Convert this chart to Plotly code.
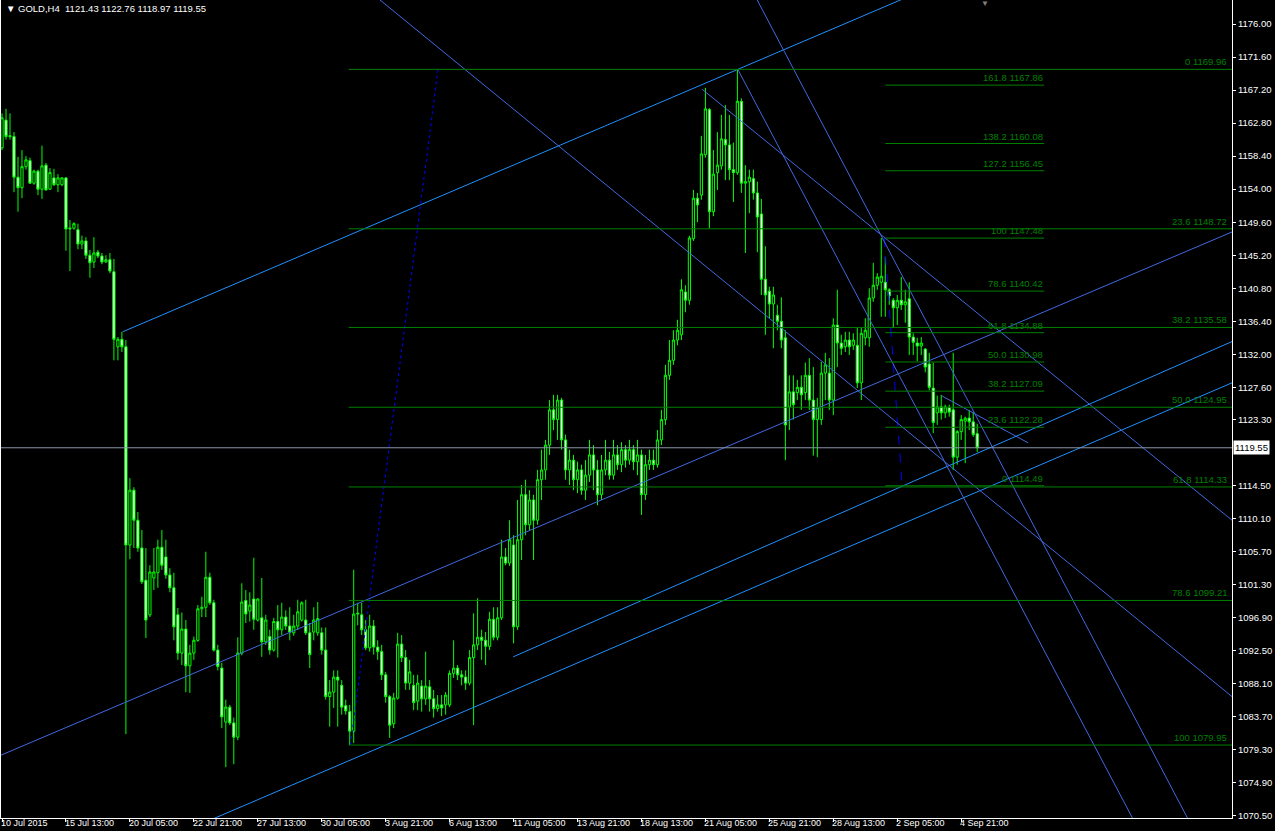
import plotly.graph_objects as go

# GOLD H4, 10 Jul - 4 Sep 2015
SYMBOL = "GOLD,H4"

DATE_LABELS = ["10 Jul 2015", "15 Jul 13:00", "20 Jul 05:00", "22 Jul 21:00", "27 Jul 13:00",
               "30 Jul 05:00", "3 Aug 21:00", "6 Aug 13:00", "11 Aug 05:00", "13 Aug 21:00",
               "18 Aug 13:00", "21 Aug 05:00", "25 Aug 21:00", "28 Aug 13:00", "2 Sep 05:00",
               "4 Sep 21:00"]
LABEL_BARS = [0, 16, 32, 48, 64, 80, 96, 112, 128, 144, 160, 176, 192, 208, 224, 240]

OPEN = [1159.5, 1163.2, 1161.0, 1161.0, 1155.6, 1154.2, 1157.0, 1157.8, 1154.8, 1156.4,
        1154.0, 1157.2, 1154.0, 1155.5, 1154.6, 1154.6, 1155.5, 1148.7, 1148.8, 1148.6,
        1146.7, 1147.1, 1145.2, 1144.3, 1145.6, 1145.1, 1144.3, 1144.6, 1143.0, 1133.0,
        1134.0, 1133.0, 1106.6, 1113.9, 1109.9, 1106.2, 1101.9, 1097.3, 1102.2, 1102.9,
        1106.3, 1105.0, 1102.6, 1100.9, 1097.3, 1092.2, 1095.4, 1090.5, 1092.2, 1093.9,
        1098.1, 1098.3, 1102.3, 1098.9, 1092.6, 1090.2, 1083.0, 1085.0, 1082.9, 1081.0,
        1092.2, 1099.2, 1097.8, 1099.4, 1096.6, 1096.9, 1093.7, 1094.4, 1092.6, 1096.4,
        1095.3, 1097.0, 1095.8, 1094.9, 1095.8, 1096.6, 1096.6, 1094.9, 1095.0, 1094.9,
        1094.9, 1092.6, 1086.4, 1087.0, 1089.0, 1087.9, 1085.2, 1084.4, 1081.8, 1097.4,
        1097.3, 1095.3, 1092.9, 1095.8, 1093.0, 1092.4, 1089.3, 1086.4, 1082.8, 1086.2,
        1093.4, 1091.6, 1088.2, 1087.9, 1085.8, 1087.8, 1086.1, 1087.7, 1086.1, 1084.8,
        1085.3, 1085.3, 1085.3, 1089.5, 1090.2, 1089.3, 1089.0, 1088.2, 1091.6, 1093.3,
        1094.3, 1093.9, 1093.1, 1096.7, 1094.3, 1096.9, 1105.0, 1104.2, 1106.6, 1095.7,
        1107.3, 1113.3, 1109.3, 1112.6, 1109.9, 1115.3, 1116.6, 1119.9, 1124.6, 1123.3,
        1125.9, 1120.6, 1116.6, 1117.9, 1115.3, 1116.6, 1113.9, 1115.9, 1118.6, 1116.6,
        1113.3, 1116.6, 1117.9, 1115.9, 1118.6, 1117.3, 1119.3, 1117.9, 1119.3, 1117.7,
        1118.6, 1113.3, 1117.3, 1117.9, 1117.3, 1120.6, 1123.3, 1129.2, 1131.2, 1133.9,
        1134.6, 1140.3, 1139.2, 1147.4, 1152.8, 1153.2, 1158.6, 1164.6, 1151.0, 1156.2,
        1157.1, 1160.6, 1159.9, 1156.6, 1156.2, 1165.7, 1154.8, 1155.0, 1155.4, 1153.5,
        1150.7, 1142.0, 1140.4, 1138.7, 1137.2, 1136.4, 1134.2, 1125.0, 1127.0, 1126.9,
        1127.6, 1126.9, 1129.2, 1125.9, 1123.3, 1123.3, 1129.5, 1129.5, 1125.9, 1135.9,
        1133.5, 1133.0, 1133.9, 1133.2, 1133.2, 1128.2, 1134.2, 1134.2, 1139.5, 1141.2,
        1141.6, 1141.6, 1140.6, 1139.2, 1138.2, 1139.2, 1138.6, 1139.4, 1134.3, 1133.5,
        1133.1, 1132.7, 1130.7, 1127.5, 1124.2, 1125.0, 1124.2, 1124.9, 1124.6, 1118.3,
        1121.7, 1123.1, 1123.5, 1123.0, 1121.43]

HIGH = [1164.1, 1164.7, 1164.1, 1161.6, 1158.3, 1159.2, 1158.4, 1158.2, 1156.6, 1156.6,
        1159.8, 1157.5, 1156.8, 1156.7, 1156.0, 1155.6, 1155.6, 1149.9, 1149.6, 1149.4,
        1147.8, 1147.6, 1145.9, 1147.6, 1145.9, 1145.5, 1145.2, 1145.5, 1144.7, 1134.3,
        1135.0, 1133.9, 1115.5, 1114.3, 1111.0, 1108.6, 1106.2, 1103.9, 1106.2, 1107.3,
        1108.6, 1107.3, 1103.5, 1102.9, 1098.2, 1097.6, 1096.6, 1093.3, 1094.4, 1098.6,
        1099.7, 1105.7, 1102.9, 1099.3, 1093.3, 1090.9, 1086.0, 1085.3, 1083.6, 1094.3,
        1101.5, 1100.6, 1100.3, 1104.9, 1099.5, 1102.2, 1097.3, 1095.3, 1096.9, 1098.6,
        1098.9, 1097.9, 1098.3, 1097.3, 1099.3, 1099.1, 1099.3, 1096.2, 1098.3, 1099.0,
        1095.6, 1095.6, 1088.6, 1089.9, 1089.9, 1088.6, 1086.0, 1085.3, 1103.3, 1098.9,
        1098.9, 1096.6, 1097.3, 1096.6, 1093.9, 1093.3, 1089.7, 1086.6, 1086.9, 1094.9,
        1094.6, 1092.6, 1091.3, 1089.3, 1089.3, 1088.6, 1092.4, 1088.6, 1087.3, 1086.6,
        1086.6, 1087.0, 1089.9, 1093.9, 1090.6, 1089.9, 1089.9, 1092.6, 1097.5, 1099.5,
        1095.3, 1095.0, 1097.7, 1098.3, 1098.3, 1107.3, 1106.2, 1109.9, 1107.9, 1112.6,
        1114.6, 1115.3, 1113.9, 1113.3, 1116.6, 1119.3, 1120.6, 1125.9, 1126.6, 1126.6,
        1126.2, 1121.3, 1119.3, 1118.6, 1117.7, 1117.3, 1117.9, 1120.6, 1119.9, 1117.9,
        1118.6, 1120.6, 1119.0, 1120.6, 1119.9, 1120.3, 1119.9, 1120.6, 1119.9, 1120.6,
        1119.3, 1118.6, 1119.3, 1119.3, 1121.9, 1124.6, 1130.6, 1133.9, 1135.2, 1136.6,
        1142.0, 1141.2, 1147.8, 1153.9, 1153.5, 1161.1, 1167.5, 1164.8, 1159.2, 1161.6,
        1163.9, 1165.2, 1163.9, 1160.2, 1169.96, 1166.1, 1157.2, 1156.6, 1156.6, 1155.0,
        1152.7, 1146.4, 1141.0, 1141.0, 1138.6, 1139.6, 1135.2, 1129.2, 1129.2, 1128.6,
        1129.2, 1130.9, 1131.5, 1130.3, 1126.2, 1131.0, 1132.2, 1131.5, 1136.8, 1140.6,
        1134.6, 1135.0, 1135.0, 1134.8, 1135.6, 1135.5, 1136.8, 1140.8, 1144.2, 1142.8,
        1147.48, 1145.0, 1140.8, 1139.5, 1139.9, 1142.3, 1140.6, 1141.6, 1134.8, 1134.2,
        1134.3, 1132.8, 1132.2, 1130.9, 1126.5, 1126.6, 1125.3, 1125.3, 1132.2, 1121.9,
        1123.9, 1123.7, 1124.6, 1124.3, 1122.76]

LOW = [1159.2, 1160.6, 1160.6, 1153.6, 1151.0, 1152.8, 1156.6, 1154.7, 1154.6, 1153.2,
       1152.7, 1153.8, 1153.9, 1154.4, 1153.6, 1154.4, 1145.8, 1143.1, 1148.6, 1146.0,
       1146.0, 1144.7, 1142.2, 1143.5, 1144.8, 1144.0, 1144.2, 1142.8, 1131.2, 1131.2,
       1132.3, 1081.4, 1104.7, 1106.2, 1105.7, 1101.4, 1094.2, 1097.0, 1100.6, 1100.9,
       1103.3, 1102.1, 1100.3, 1093.9, 1091.3, 1090.6, 1087.0, 1086.9, 1091.3, 1093.7,
       1097.0, 1097.0, 1098.6, 1092.4, 1089.9, 1082.2, 1077.0, 1082.6, 1077.4, 1080.6,
       1091.9, 1096.2, 1096.4, 1095.3, 1096.4, 1091.7, 1093.3, 1092.0, 1092.4, 1091.6,
       1094.6, 1095.3, 1093.9, 1094.5, 1095.3, 1096.4, 1094.6, 1090.2, 1093.9, 1094.5,
       1092.0, 1086.0, 1082.4, 1084.9, 1082.4, 1084.0, 1084.0, 1079.95, 1080.2, 1095.9,
       1094.6, 1092.6, 1092.4, 1092.0, 1091.3, 1088.6, 1085.6, 1080.9, 1082.2, 1086.0,
       1091.0, 1087.3, 1087.3, 1084.6, 1084.6, 1084.4, 1085.3, 1084.4, 1083.6, 1084.4,
       1083.8, 1084.0, 1085.0, 1088.9, 1088.6, 1087.9, 1087.3, 1087.9, 1082.6, 1092.6,
       1091.3, 1090.6, 1092.6, 1093.9, 1093.9, 1096.6, 1103.9, 1103.8, 1093.5, 1095.3,
       1104.6, 1107.9, 1108.6, 1104.6, 1109.3, 1112.6, 1115.3, 1118.6, 1121.9, 1120.6,
       1119.3, 1115.3, 1114.6, 1113.9, 1113.5, 1113.3, 1112.6, 1115.0, 1113.9, 1111.9,
       1112.6, 1115.9, 1115.3, 1115.3, 1116.6, 1116.3, 1116.9, 1117.3, 1116.6, 1115.9,
       1110.6, 1112.6, 1116.6, 1116.6, 1116.9, 1119.9, 1122.6, 1128.6, 1130.6, 1133.2,
       1133.9, 1137.6, 1138.6, 1147.1, 1149.6, 1152.6, 1158.2, 1148.8, 1150.4, 1153.9,
       1156.6, 1155.2, 1155.2, 1152.3, 1155.9, 1153.5, 1145.5, 1150.8, 1152.6, 1145.6,
       1139.9, 1134.6, 1136.8, 1132.8, 1135.2, 1132.8, 1117.9, 1121.9, 1123.3, 1125.9,
       1124.6, 1125.9, 1124.6, 1118.5, 1118.3, 1122.6, 1125.9, 1124.6, 1123.9, 1130.3,
       1131.9, 1132.3, 1131.9, 1132.6, 1127.5, 1125.9, 1133.2, 1133.0, 1139.0, 1140.6,
       1137.0, 1137.0, 1138.6, 1135.5, 1135.9, 1137.9, 1136.2, 1131.9, 1131.9, 1131.1,
       1131.9, 1129.6, 1127.2, 1121.5, 1122.6, 1123.3, 1123.5, 1123.7, 1116.6, 1117.3,
       1120.6, 1117.5, 1121.9, 1121.0, 1118.97]

CLOSE = [1163.5, 1161.0, 1161.1, 1155.6, 1154.2, 1157.0, 1157.9, 1154.8, 1156.4, 1154.0,
         1157.1, 1153.9, 1156.2, 1154.6, 1155.5, 1155.5, 1148.7, 1148.8, 1149.4, 1146.7,
         1147.1, 1145.2, 1144.2, 1145.5, 1145.1, 1144.3, 1144.6, 1143.1, 1134.0, 1134.0,
         1133.0, 1106.6, 1113.9, 1109.9, 1106.2, 1101.7, 1096.6, 1103.0, 1103.0, 1106.3,
         1103.9, 1102.6, 1100.9, 1095.7, 1092.2, 1095.4, 1090.5, 1092.2, 1093.9, 1098.1,
         1098.3, 1102.3, 1098.9, 1092.6, 1090.4, 1083.7, 1085.0, 1082.9, 1081.0, 1092.2,
         1099.0, 1097.4, 1098.6, 1096.7, 1099.4, 1093.7, 1096.6, 1092.6, 1096.4, 1095.3,
         1097.0, 1095.8, 1095.0, 1095.8, 1097.7, 1098.9, 1094.9, 1092.0, 1096.6, 1096.8,
         1092.6, 1086.4, 1087.0, 1089.0, 1088.6, 1085.0, 1084.5, 1081.8, 1097.4, 1097.5,
         1095.3, 1092.9, 1095.8, 1093.0, 1092.4, 1089.3, 1086.4, 1082.6, 1086.2, 1093.4,
         1091.6, 1088.2, 1089.7, 1085.6, 1088.2, 1086.1, 1087.8, 1086.1, 1084.8, 1085.3,
         1084.9, 1086.6, 1089.5, 1090.2, 1089.3, 1089.0, 1088.2, 1091.6, 1093.3, 1094.3,
         1093.9, 1093.1, 1096.7, 1094.3, 1096.9, 1105.0, 1104.2, 1107.3, 1095.7, 1107.3,
         1113.3, 1109.3, 1112.6, 1109.9, 1115.3, 1116.6, 1119.9, 1124.6, 1123.3, 1125.9,
         1120.6, 1116.6, 1117.9, 1115.3, 1116.6, 1113.9, 1115.9, 1118.6, 1116.6, 1113.3,
         1116.6, 1117.9, 1115.9, 1118.6, 1117.3, 1119.3, 1117.9, 1119.3, 1117.7, 1118.6,
         1113.3, 1117.3, 1117.9, 1117.3, 1120.6, 1123.3, 1129.2, 1131.2, 1133.9, 1135.2,
         1140.6, 1139.2, 1147.5, 1152.8, 1151.9, 1158.7, 1164.7, 1151.0, 1156.0, 1157.2,
         1160.7, 1159.9, 1156.6, 1156.2, 1165.7, 1154.8, 1155.0, 1155.6, 1153.5, 1150.3,
         1142.0, 1139.9, 1138.7, 1139.9, 1136.4, 1133.9, 1122.6, 1127.0, 1125.3, 1127.6,
         1126.6, 1129.2, 1125.9, 1123.3, 1124.9, 1129.5, 1130.6, 1125.9, 1135.9, 1133.5,
         1132.8, 1133.9, 1133.0, 1133.9, 1128.2, 1134.8, 1135.2, 1139.5, 1141.2, 1142.3,
         1142.4, 1140.6, 1139.8, 1138.2, 1139.2, 1138.6, 1139.0, 1134.3, 1133.6, 1133.1,
         1133.5, 1130.3, 1127.6, 1122.9, 1125.0, 1124.2, 1125.0, 1124.3, 1118.3, 1121.7,
         1123.3, 1123.5, 1123.0, 1121.3, 1119.55]

# 1118.90 sits under the bid box in the original, so it is left out
PRICE_TICKS = [1176.00, 1171.60, 1167.20, 1162.80, 1158.40, 1154.00, 1149.60, 1145.20,
               1140.80, 1136.40, 1132.00, 1127.60, 1123.30, 1114.50, 1110.10,
               1105.70, 1101.30, 1096.90, 1092.50, 1088.10, 1083.70, 1079.30, 1074.90, 1070.50]

# big retracement (1079.95 -> 1169.96)
FIB1_LEVELS = ["0", "23.6", "38.2", "50.0", "61.8", "78.6", "100"]
FIB1_PRICES = [1169.96, 1148.72, 1135.58, 1124.95, 1114.33, 1099.21, 1079.95]
FIB1_FROM = 86.75
FIB1_LINK_X = [87.2, 109.1]
FIB1_LINK_P = [1079.95, 1169.96]

# expansion off the 2 Sep high (1147.48 -> 1114.49)
FIB2_LEVELS = ["0", "23.6", "38.2", "50.0", "61.8", "78.6", "100", "127.2", "138.2", "161.8"]
FIB2_PRICES = [1114.49, 1122.28, 1127.09, 1130.98, 1134.88, 1140.42, 1147.48, 1156.45, 1160.08, 1167.86]
FIB2_FROM = 221.0
FIB2_TO = 260.75
FIB2_LINK_X = [220.75, 225.2]
FIB2_LINK_P = [1147.48, 1114.49]

# trend lines: two anchor points each, ray = carry on to the right edge
TREND_X0 = [30.2, -0.25, 127.9, 40.0, 235.2, 90.0, 175.2, 184.1, 185.0]
TREND_P0 = [1135.0, 1078.6, 1091.7, 1067.2, 1126.45, 1181.2, 1167.3, 1169.96, 1183.2]
TREND_X1 = [184.1, 307.75, 307.75, 307.75, 256.75, 307.75, 307.75, 290.0, 300.0]
TREND_P1 = [1169.96, 1148.3, 1133.7, 1128.2, 1120.2, 1086.4, 1109.9, 1063.0, 1066.8]
TREND_RAY = [True, False, False, False, False, False, False, False, False]
TREND_COLOR = ["#1e90ff", "#4169e1", "#1e90ff", "#1e90ff", "#4169e1",
               "#4169e1", "#4169e1", "#4169e1", "#4169e1"]

BID = CLOSE[-1]
X_MAX = 307.75
Y_RANGE = [1070.23, 1179.20]

FONT = "Liberation Sans, Arial, sans-serif"
FS = 9.5
FIB_GREEN = "#008000"

fig = go.Figure()

fig.add_trace(go.Candlestick(
    x=list(range(len(CLOSE))),
    open=OPEN, high=HIGH, low=LOW, close=CLOSE,
    increasing=dict(line=dict(color="#00ff00", width=1), fillcolor="black"),
    decreasing=dict(line=dict(color="#00ff00", width=1), fillcolor="white"),
    whiskerwidth=0,
    hoverinfo="skip",
    showlegend=False,
))

# bid line
fig.add_shape(type="line", xref="paper", yref="y", x0=0, x1=1, y0=BID, y1=BID,
              line=dict(color="#8c96a8", width=1))

# fibonacci levels
for lvl, p in zip(FIB1_LEVELS, FIB1_PRICES):
    fig.add_shape(type="line", xref="x", yref="y", x0=FIB1_FROM, x1=X_MAX, y0=p, y1=p,
                  line=dict(color=FIB_GREEN, width=1))
    fig.add_annotation(x=X_MAX, y=p, xref="x", yref="y", text=f"{lvl} {p:.2f}",
                       showarrow=False, xanchor="right", yanchor="bottom", xshift=-3,
                       font=dict(family=FONT, size=FS, color=FIB_GREEN))
for lvl, p in zip(FIB2_LEVELS, FIB2_PRICES):
    fig.add_shape(type="line", xref="x", yref="y", x0=FIB2_FROM, x1=FIB2_TO, y0=p, y1=p,
                  line=dict(color=FIB_GREEN, width=1))
    fig.add_annotation(x=FIB2_TO, y=p, xref="x", yref="y", text=f"{lvl} {p:.2f}",
                       showarrow=False, xanchor="right", yanchor="bottom", xshift=1,
                       font=dict(family=FONT, size=FS, color=FIB_GREEN))

fig.add_trace(go.Scatter(x=FIB1_LINK_X, y=FIB1_LINK_P, mode="lines", hoverinfo="skip",
                         line=dict(color="#0000ff", width=1, dash="dot"), showlegend=False))
fig.add_trace(go.Scatter(x=FIB2_LINK_X, y=FIB2_LINK_P, mode="lines", hoverinfo="skip",
                         line=dict(color="#0000ff", width=1, dash="dash"), showlegend=False))

# trend lines
for x0, p0, x1, p1, ray, col in zip(TREND_X0, TREND_P0, TREND_X1, TREND_P1, TREND_RAY, TREND_COLOR):
    if ray:
        slope = (p1 - p0) / (x1 - x0)
        x1, p1 = X_MAX, p0 + slope * (X_MAX - x0)
    fig.add_trace(go.Scatter(x=[x0, x1], y=[p0, p1], mode="lines", hoverinfo="skip",
                             line=dict(color=col, width=1), showlegend=False))

# time axis labels, left aligned at their tick like MT4
for bar, lab in zip(LABEL_BARS, DATE_LABELS):
    fig.add_annotation(x=bar, y=0, xref="x", yref="paper", text=lab, showarrow=False,
                       xanchor="left", yanchor="top", xshift=-2, yshift=1, borderpad=0,
                       font=dict(family=FONT, size=9, color="white"))

# header and bid label
fig.add_annotation(x=0, y=1, xref="paper", yref="paper", xanchor="left", yanchor="top",
                   xshift=3, yshift=-1, showarrow=False,
                   text=f"\u25bc {SYMBOL}  {OPEN[-1]:.2f} {HIGH[-1]:.2f} {LOW[-1]:.2f} {CLOSE[-1]:.2f}",
                   font=dict(family=FONT, size=FS, color="white"))
fig.add_annotation(x=1, y=BID, xref="paper", yref="y", xanchor="left", yanchor="middle",
                   xshift=1, showarrow=False, text=f"{BID:.2f}", bgcolor="white",
                   borderpad=1, font=dict(family=FONT, size=FS, color="black"))
fig.add_annotation(x=246, y=1, xref="x", yref="paper", xanchor="center", yanchor="top",
                   showarrow=False, text="\u25bc", yshift=3,
                   font=dict(family=FONT, size=8, color="#808080"))

fig.update_layout(
    width=1275, height=831,
    margin=dict(l=1, r=43, t=0, b=13),
    paper_bgcolor="black", plot_bgcolor="black",
    font=dict(family=FONT, size=FS, color="white"),
    showlegend=False,
    boxgap=0.2,
)
fig.update_xaxes(range=[-0.25, X_MAX], rangeslider_visible=False, showgrid=False,
                 zeroline=False, showline=True, linecolor="white", linewidth=1,
                 tickvals=LABEL_BARS, showticklabels=False, ticks="outside",
                 ticklen=3, tickcolor="white")
fig.update_yaxes(range=Y_RANGE, side="right", showgrid=False, zeroline=False,
                 showline=True, linecolor="white", linewidth=1, mirror=True,
                 tickvals=PRICE_TICKS, ticktext=[f"{v:.2f}" for v in PRICE_TICKS],
                 ticks="outside", ticklen=3, tickcolor="white",
                 tickfont=dict(family=FONT, size=FS, color="white"))

# the page's default body margin would push the chart 8px off the window
fig.write_html("out.html", config={"displayModeBar": False},
               post_script="document.body.style.margin='0';document.body.style.background='black';")
